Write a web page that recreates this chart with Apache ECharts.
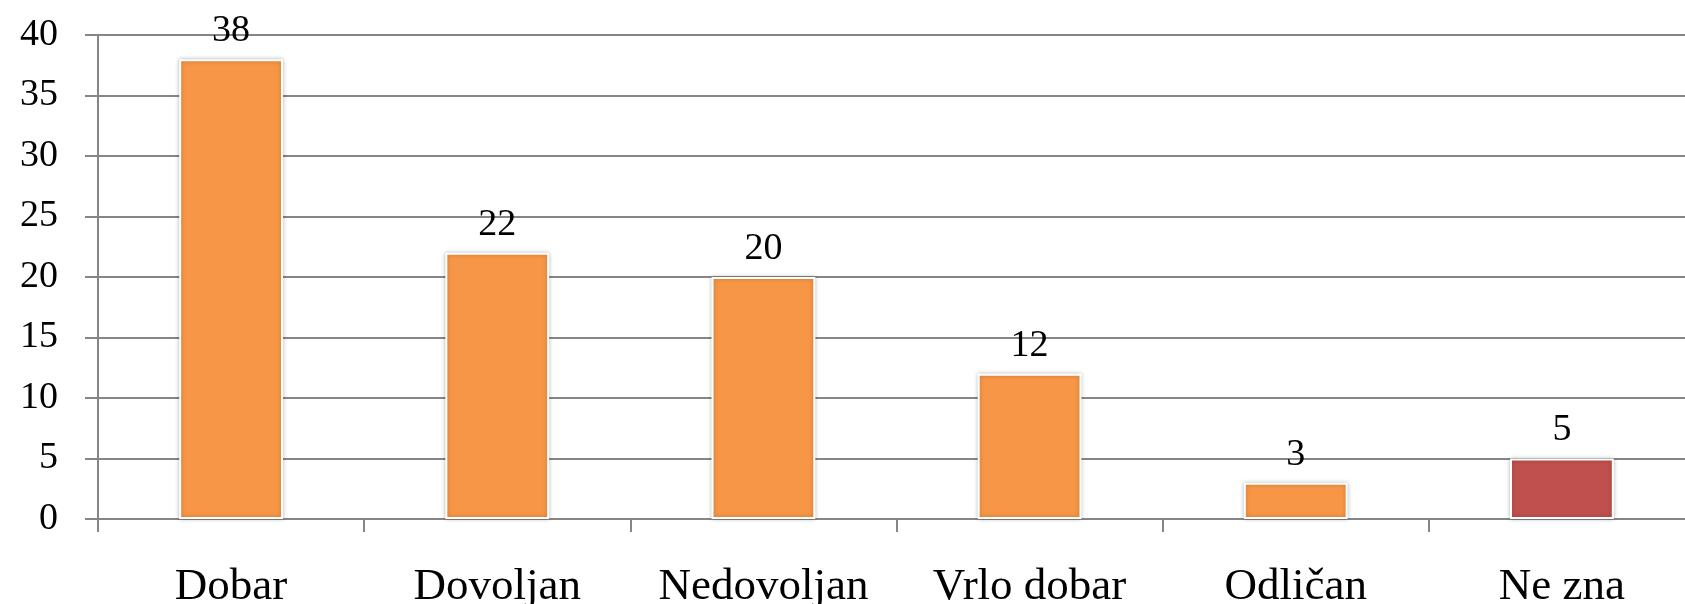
<!DOCTYPE html>
<html>
<head>
<meta charset="utf-8">
<script src="https://cdn.jsdelivr.net/npm/echarts@6/dist/echarts.min.js"></script>
<style>
  html, body { margin: 0; padding: 0; background: #fff; }
  #main { width: 1685px; height: 604px; }
</style>
</head>
<body>
<div id="main"></div>
<script>
const categories = ['Dobar', 'Dovoljan', 'Nedovoljan', 'Vrlo dobar', 'Odličan', 'Ne zna'];
const values = [38, 22, 20, 12, 3, 5];
const barColors = ['#F79646', '#F79646', '#F79646', '#F79646', '#F79646', '#C0504D'];

const chart = echarts.init(document.getElementById('main'));
const font = '"Liberation Serif", "DejaVu Serif", serif';

chart.setOption({
  backgroundColor: '#ffffff',
  animation: false,
  grid: { left: 98, right: -10, top: 35, bottom: 85, outerBoundsMode: 'none' },
  xAxis: {
    type: 'category',
    data: categories,
    axisLine: { show: true, lineStyle: { color: '#868686', width: 2 } },
    axisTick: { show: true, interval: 0, length: 13, lineStyle: { color: '#868686', width: 2 } },
    axisLabel: { color: '#000', fontSize: 45, fontFamily: font, margin: 46, interval: 0, hideOverlap: false }
  },
  yAxis: {
    type: 'value',
    min: 0,
    max: 40,
    interval: 5,
    axisLine: { show: true, lineStyle: { color: '#868686', width: 2 } },
    axisTick: { show: true, length: 13, lineStyle: { color: '#868686', width: 2 } },
    axisLabel: { color: '#000', fontSize: 38, fontFamily: font, margin: 40 },
    splitLine: { show: true, lineStyle: { color: '#868686', width: 2 } }
  },
  series: [{
    type: 'bar',
    barWidth: '39%',
    data: values.map((v, i) => ({ value: v, itemStyle: { color: barColors[i] } })),
    itemStyle: {
      borderColor: '#ffffff',
      borderWidth: 2,
      shadowColor: 'rgba(0,0,0,0.25)',
      shadowBlur: 4
    },
    label: {
      show: true,
      position: 'top',
      distance: 9,
      color: '#000',
      fontSize: 38,
      fontFamily: font
    }
  }]
});
</script>
</body>
</html>
